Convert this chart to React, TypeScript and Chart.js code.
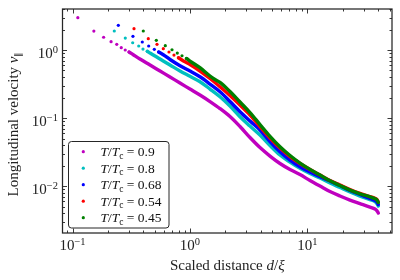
import React, { useEffect, useRef } from "react";
import { Chart, registerables } from "chart.js";

Chart.register(...registerables);

// ---------- data ----------
const seriesLabels = ["0.9", "0.8", "0.68", "0.54", "0.45"];

const magentaX = [0.111, 0.152, 0.184, 0.213, 0.238, 0.26, 0.281, 0.303, 0.327, 0.375, 0.457, 0.556, 0.676, 0.822, 1.0, 1.216, 1.48, 1.8, 2.19, 2.664, 3.241, 3.942, 4.797, 5.834, 7.097, 8.635, 10.5, 12.78, 15.54, 18.91, 23.0, 27.98, 34.04, 37.54, 38.9, 40.1];
const magentaY = [2.99, 1.9, 1.54, 1.325, 1.213, 1.081, 1.0, 0.935, 0.859, 0.737, 0.602, 0.491, 0.401, 0.327, 0.267, 0.218, 0.1748, 0.1379, 0.1052, 0.075, 0.0517, 0.0368, 0.0276, 0.02143, 0.01748, 0.01476, 0.01205, 0.01, 0.0083, 0.00713, 0.00622, 0.00553, 0.00491, 0.00459, 0.00436, 0.00401];

const cyanX = [0.2268, 0.2814, 0.3253, 0.366, 0.398, 0.433, 0.457, 0.556, 0.676, 0.822, 1.0, 1.216, 1.48, 1.8, 2.19, 2.664, 3.241, 3.942, 4.797, 5.834, 7.097, 8.635, 10.5, 12.78, 15.54, 18.91, 23.0, 27.98, 34.04, 37.54, 38.9, 40.1];
const cyanY = [1.903, 1.501, 1.28, 1.145, 1.034, 0.957, 0.903, 0.737, 0.602, 0.491, 0.4104, 0.3418, 0.267, 0.2057, 0.1501, 0.1045, 0.0763, 0.0562, 0.0394, 0.02857, 0.02254, 0.01821, 0.01527, 0.01311, 0.01107, 0.0095, 0.00816, 0.00713, 0.00633, 0.00592, 0.00553, 0.00508];

const blueX = [0.2454, 0.327, 0.3927, 0.4451, 0.4969, 0.5415, 0.6126, 0.676, 0.822, 1.0, 1.216, 1.48, 1.8, 2.19, 2.664, 3.241, 3.942, 4.797, 5.834, 7.097, 8.635, 10.5, 12.78, 15.54, 18.91, 23.0, 27.98, 34.04, 37.54, 38.9, 40.1];
const blueY = [2.308, 1.59, 1.311, 1.145, 1.024, 0.935, 0.822, 0.725, 0.5876, 0.491, 0.4048, 0.3162, 0.2435, 0.1748, 0.1238, 0.0903, 0.0666, 0.0451, 0.03194, 0.02412, 0.01922, 0.01606, 0.0137, 0.01185, 0.01017, 0.00859, 0.0075, 0.00655, 0.00612, 0.00582, 0.00534];

const redX = [0.3338, 0.4417, 0.5238, 0.5927, 0.6627, 0.7307, 0.798, 0.9067, 1.0, 1.216, 1.48, 1.8, 2.19, 2.664, 3.241, 3.942, 4.797, 5.834, 7.097, 8.635, 10.5, 12.78, 15.54, 18.91, 23.0, 27.98, 34.04, 37.54, 38.9, 40.1];
const redY = [2.057, 1.466, 1.213, 1.045, 0.935, 0.844, 0.768, 0.671, 0.612, 0.491, 0.381, 0.2886, 0.2143, 0.1553, 0.1107, 0.075, 0.0508, 0.0362, 0.02715, 0.02143, 0.01748, 0.01451, 0.01205, 0.01034, 0.00888, 0.00781, 0.00701, 0.00659, 0.00637, 0.00582];

const greenX = [0.4005, 0.5167, 0.6163, 0.7029, 0.7797, 0.8551, 0.9337, 1.0, 1.216, 1.48, 1.632, 1.8, 2.19, 2.664, 3.241, 3.942, 4.797, 5.834, 7.097, 8.635, 10.5, 12.78, 15.54, 18.91, 23.0, 27.98, 34.04, 37.54, 38.9, 40.1];
const greenY = [1.903, 1.389, 1.157, 1.01, 0.903, 0.824, 0.75, 0.689, 0.549, 0.4147, 0.3684, 0.335, 0.2453, 0.1719, 0.1205, 0.0802, 0.0538, 0.0378, 0.0281, 0.0218, 0.0176, 0.01451, 0.01193, 0.01017, 0.00873, 0.0077, 0.00694, 0.00653, 0.00626, 0.00572];

// number of leading points that are drawn as separate dots (the rest merge into a band)
const separateDots = [8, 6, 6, 7, 7];

const xTickExponents = [-1, 0, 1];
const yTickExponents = [-2, -1, 0];

// axis limits
const X_MIN = 0.0822;
const X_MAX = 52.4;
const Y_MIN = 0.00204;
const Y_MAX = 4.01;

// ---------- styles ----------
const COLORS = ["#bf00bf", "#00bfbf", "#0000ff", "#ff0000", "#008000"];
const FONT = '"Liberation Serif", "Times New Roman", serif';

type Part = { t: string; size: number; italic?: boolean; dy?: number };

function fnt(size: number, italic?: boolean) {
  return `${italic ? "italic " : ""}${size}px ${FONT}`;
}

function richWidth(ctx: CanvasRenderingContext2D, parts: Part[]) {
  let w = 0;
  for (const p of parts) {
    ctx.font = fnt(p.size, p.italic);
    w += ctx.measureText(p.t).width;
  }
  return w;
}

function drawRich(
  ctx: CanvasRenderingContext2D,
  parts: Part[],
  x: number,
  y: number,
  align: "left" | "center" | "right"
) {
  const total = richWidth(ctx, parts);
  let cx = align === "left" ? x : align === "center" ? x - total / 2 : x - total;
  ctx.textAlign = "left";
  ctx.textBaseline = "alphabetic";
  for (const p of parts) {
    ctx.font = fnt(p.size, p.italic);
    ctx.fillText(p.t, cx, y + (p.dy || 0));
    cx += ctx.measureText(p.t).width;
  }
}

function expLabel(e: number): Part[] {
  const s = e < 0 ? "\u2212" + String(-e) : String(e);
  return [
    { t: "10", size: 15 },
    { t: s, size: 10.5, dy: -5.5 },
  ];
}

const decorPlugin = {
  id: "decor",
  afterDraw(chart: any) {
    const ctx: CanvasRenderingContext2D = chart.ctx;
    const a = chart.chartArea;
    const xs = chart.scales.x;
    const ys = chart.scales.y;
    ctx.save();

    // ticks (inward, all four sides)
    ctx.strokeStyle = "#222";
    ctx.lineWidth = 0.9;
    ctx.beginPath();
    for (let e = -3; e <= 2; e++) {
      for (let m = 1; m <= 9; m++) {
        const v = m * Math.pow(10, e);
        const len = m === 1 ? 4.5 : 2.5;
        if (v >= X_MIN && v <= X_MAX) {
          const px = Math.round(xs.getPixelForValue(v)) + 0.5;
          ctx.moveTo(px, a.bottom);
          ctx.lineTo(px, a.bottom - len);
          ctx.moveTo(px, a.top);
          ctx.lineTo(px, a.top + len);
        }
        if (v >= Y_MIN && v <= Y_MAX) {
          const py = Math.round(ys.getPixelForValue(v)) + 0.5;
          ctx.moveTo(a.left, py);
          ctx.lineTo(a.left + len, py);
          ctx.moveTo(a.right, py);
          ctx.lineTo(a.right - len, py);
        }
      }
    }
    ctx.stroke();

    // frame
    ctx.lineWidth = 1.25;
    ctx.strokeStyle = "#262626";
    ctx.strokeRect(a.left, a.top, a.right - a.left, a.bottom - a.top);

    // tick labels
    ctx.fillStyle = "#222";
    for (const e of xTickExponents) {
      const px = xs.getPixelForValue(Math.pow(10, e));
      drawRich(ctx, expLabel(e), px, a.bottom + 17, "center");
    }
    for (const e of yTickExponents) {
      const py = ys.getPixelForValue(Math.pow(10, e));
      drawRich(ctx, expLabel(e), a.left - 4.5, py + 8, "right");
    }

    // x axis title
    const cxMid = (a.left + a.right) / 2;
    drawRich(
      ctx,
      [
        { t: "Scaled distance ", size: 15 },
        { t: "d", size: 15, italic: true },
        { t: "/", size: 15 },
        { t: "\u03be", size: 15, italic: true },
      ],
      cxMid,
      270,
      "center"
    );

    // y axis title
    ctx.save();
    ctx.translate(18, (a.top + a.bottom) / 2 + 3);
    ctx.rotate(-Math.PI / 2);
    drawRich(
      ctx,
      [
        { t: "Longitudinal velocity ", size: 15 },
        { t: "v", size: 15, italic: true },
        { t: "\u2225", size: 9, dy: 3 },
      ],
      0,
      0,
      "center"
    );
    ctx.restore();

    // legend
    const lx = 68.5;
    const ly = 141.5;
    const lw = 100.5;
    const lh = 86.5;
    ctx.beginPath();
    ctx.roundRect(lx, ly, lw, lh, 3);
    ctx.fillStyle = "#ffffff";
    ctx.fill();
    ctx.lineWidth = 1;
    ctx.strokeStyle = "#262626";
    ctx.stroke();
    const rowGap = 16.5;
    for (let i = 0; i < seriesLabels.length; i++) {
      const ry = 151.7 + i * rowGap;
      ctx.beginPath();
      ctx.arc(83.3, ry, 1.6, 0, Math.PI * 2);
      ctx.fillStyle = COLORS[i];
      ctx.fill();
      ctx.fillStyle = "#111";
      drawRich(
        ctx,
        [
          { t: "T", size: 13.5, italic: true },
          { t: "/", size: 13.5 },
          { t: "T", size: 13.5, italic: true },
          { t: "c", size: 9.5, dy: 2.5 },
          { t: " = " + seriesLabels[i], size: 13.5 },
        ],
        100.5,
        ry + 4.5,
        "left"
      );
    }

    ctx.restore();
  },
};

const seriesX = [magentaX, cyanX, blueX, redX, greenX];
const seriesY = [magentaY, cyanY, blueY, redY, greenY];

export default function App() {
  const ref = useRef<HTMLCanvasElement | null>(null);

  useEffect(() => {
    if (!ref.current) return;
    const datasets = seriesX.map((xsArr, i) => {
      const n = separateDots[i];
      return {
        label: "T/Tc = " + seriesLabels[i],
        data: xsArr.map((xv, j) => ({ x: xv, y: seriesY[i][j] })),
        showLine: true,
        borderColor: COLORS[i],
        backgroundColor: COLORS[i],
        borderWidth: 3.4,
        borderCapStyle: "round" as const,
        borderJoinStyle: "round" as const,
        cubicInterpolationMode: "monotone" as const,
        pointRadius: (c: any) => (c.dataIndex < n ? 1.6 : 0),
        pointHoverRadius: 0,
        pointBorderWidth: 0,
        segment: {
          borderColor: (c: any) => (c.p1DataIndex < n ? "rgba(0,0,0,0)" : undefined),
        },
        order: 5 - i,
      };
    });

    const chart = new Chart(ref.current, {
      type: "scatter",
      data: { datasets },
      options: {
        animation: false,
        responsive: false,
        maintainAspectRatio: false,
        devicePixelRatio: 1,
        events: [],
        layout: { padding: { left: 0, right: 8, top: 9, bottom: 0 } },
        plugins: {
          legend: { display: false },
          tooltip: { enabled: false },
        },
        scales: {
          x: {
            type: "logarithmic",
            min: X_MIN,
            max: X_MAX,
            ticks: { display: false },
            grid: { display: false },
            border: { display: false },
            afterFit: (s: any) => {
              s.height = 47;
            },
          },
          y: {
            type: "logarithmic",
            min: Y_MIN,
            max: Y_MAX,
            ticks: { display: false },
            grid: { display: false },
            border: { display: false },
            afterFit: (s: any) => {
              s.width = 62.5;
            },
          },
        },
      } as any,
      plugins: [decorPlugin],
    });
    return () => chart.destroy();
  }, []);

  return (
    <div style={{ position: "fixed", left: 0, top: 0, width: 400, height: 280, background: "#fff" }}>
      <canvas ref={ref} width={400} height={280} style={{ width: 400, height: 280, display: "block" }} />
    </div>
  );
}
